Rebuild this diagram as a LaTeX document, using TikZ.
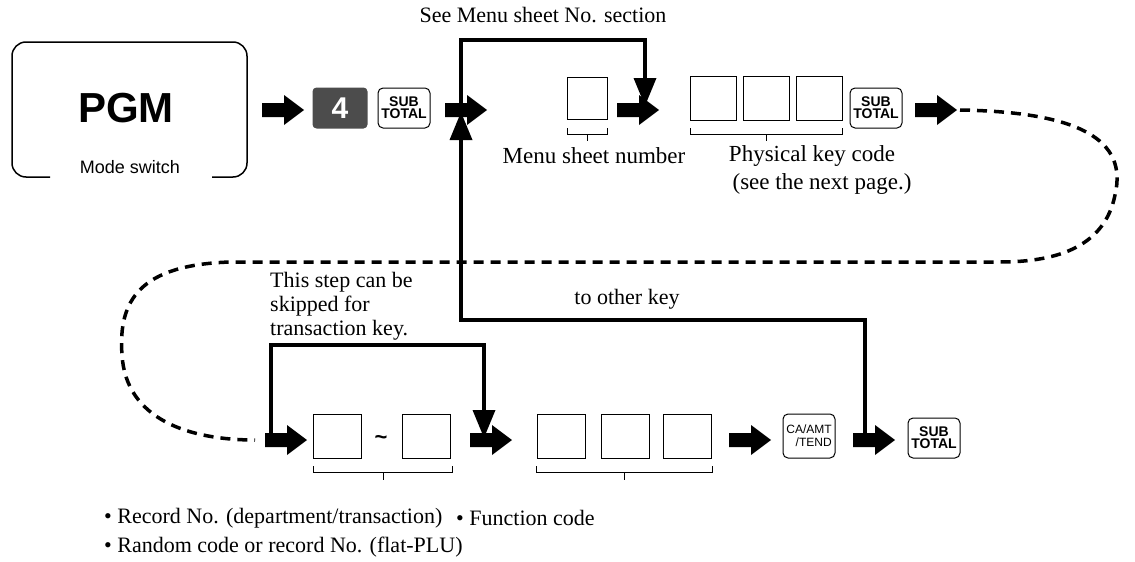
\documentclass[tikz,border=0pt]{standalone}
\usepackage{fontspec}
\setmainfont{Liberation Serif}
\setsansfont{Liberation Sans}
\usetikzlibrary{arrows.meta}
\begin{document}
\begin{tikzpicture}[x=1pt,y=-1pt,
  blk/.pic={\fill (0,-7)--(22,-7)--(22,-15)--(42,0)--(22,15)--(22,7)--(0,7)--cycle;},
  ebox/.style={draw,line width=0.8pt,minimum width=46pt,minimum height=44pt,inner sep=0pt},
  key/.style={draw,line width=1pt,rounded corners=5pt,minimum width=52pt,minimum height=40pt,inner sep=0pt,font=\sffamily\bfseries\fontsize{14}{14}\selectfont,align=center},
  lbl/.style={font=\fontsize{22}{25}\selectfont,inner sep=0pt},
  thick/.style={line width=3.5pt},
  tip/.style={-{Triangle[width=22pt,length=28pt]}}]
\useasboundingbox (0,0) rectangle (1135,562);
% PGM box
\draw[line width=1.5pt,rounded corners=14pt] (50,177)--(12,177)--(12,42)--(247,42)--(247,177)--(212,177);
\node[font=\sffamily\bfseries\fontsize{42}{42}\selectfont] (pgm) at (126,108) {PGM};
\node[font=\sffamily\fontsize{18}{18}\selectfont] (ms) at (130,167) {Mode switch};
\pic at (262,110) {blk};
\node[fill=black!70,rounded corners=4pt,minimum width=55pt,minimum height=41pt,text=white,font=\sffamily\bfseries\fontsize{30}{30}\selectfont] (k4) at (340,108) {4};
\node[key] (st1) at (404,108) {SUB\\[-2pt]TOTAL};
\pic at (445,110) {blk};
% menu sheet
\node[ebox,minimum width=40pt,minimum height=42pt] (ms1) at (587,98) {};
\draw[line width=0.8pt] (567,128)--(567,134)--(607,134)--(607,128) (587,134)--(587,141);
\node[lbl,font=\fontsize{23}{26}\selectfont] (msn) at (594,156) {Menu sheet number};
\pic at (617,110) {blk};
\node[ebox] (p1) at (713,98) {};
\node[ebox] (p2) at (766,98) {};
\node[ebox] (p3) at (819,98) {};
\draw[line width=0.8pt] (690,128)--(690,134)--(842,134)--(842,128) (766,134)--(766,141);
\node[lbl,font=\fontsize{23}{26}\selectfont] (pkc) at (812,156) {Physical key code};
\node[lbl,font=\fontsize{23}{26}\selectfont] (snp) at (822,184) {(see the next page.)};
\node[key] (st2) at (876,108) {SUB\\[-2pt]TOTAL};
\pic at (915,110) {blk};
% top loop
\coordinate (a1) at (461,110);
\coordinate (a2) at (461,40);
\coordinate (a3) at (645,40);
\coordinate (a4) at (645,106);
\draw[thick,tip] (a1)--(a2)--(a3)--(a4);
\node[lbl] (see) at (543,15) {See Menu sheet No. section};
% dashed
\draw[line width=3.5pt,dash pattern=on 10pt off 7pt] (960,110) .. controls (1080,112) and (1128,140) .. (1115,195) .. controls (1105,245) and (1060,262) .. (1000,262) -- (230,262) .. controls (140,265) and (118,300) .. (122,355) .. controls (126,420) and (190,440) .. (255,440);
% lower row
\pic at (265,440) {blk};
\node[ebox,minimum width=48pt] (r1) at (337,436) {};
\node[font=\sffamily\bfseries\fontsize{22}{22}\selectfont] (til) at (381,440) {\char"7E};
\node[ebox,minimum width=48pt] (r2) at (426,436) {};
\draw[line width=0.8pt] (313,466)--(313,472)--(452,472)--(452,466) (383,472)--(383,480);
\pic at (470,440) {blk};
\node[ebox,minimum width=48pt] (f1) at (561,436) {};
\node[ebox,minimum width=48pt] (f2) at (625,436) {};
\node[ebox,minimum width=48pt] (f3) at (687,436) {};
\draw[line width=0.8pt] (536,466)--(536,472)--(712,472)--(712,466) (624,472)--(624,480);
\pic at (729,440) {blk};
\node[key,minimum width=52pt,minimum height=44pt,font=\sffamily\fontsize{12}{13}\selectfont,align=right] (ca) at (809,436) {CA/AMT\\/TEND};
\pic at (853,440) {blk};
\node[key] (st3) at (934,438) {SUB\\[-2pt]TOTAL};
% skip loop
\coordinate (b1) at (271,440);
\coordinate (b2) at (271,345);
\coordinate (b3) at (484,345);
\coordinate (b4) at (484,438);
\draw[thick,tip] (b1)--(b2)--(b3)--(b4);
\node[lbl,align=left,anchor=north west,font=\fontsize{22}{24}\selectfont] (skip) at (270,272) {This step can be\\skipped for\\transaction key.};
% other key
\coordinate (c1) at (865,440);
\coordinate (c2) at (865,320);
\coordinate (c3) at (461,320);
\coordinate (c4) at (461,112);
\draw[thick,tip] (c1)--(c2)--(c3)--(c4);
\node[lbl] (ok) at (627,299) {to other key};
\node[lbl,anchor=west] (rec) at (104,518) {• Record No. (department/transaction)};
\node[lbl,anchor=west] (fc) at (456,518) {• Function code};
\node[lbl,anchor=west] (rnd) at (104,547) {• Random code or record No. (flat-PLU)};
\end{tikzpicture}
\end{document}
